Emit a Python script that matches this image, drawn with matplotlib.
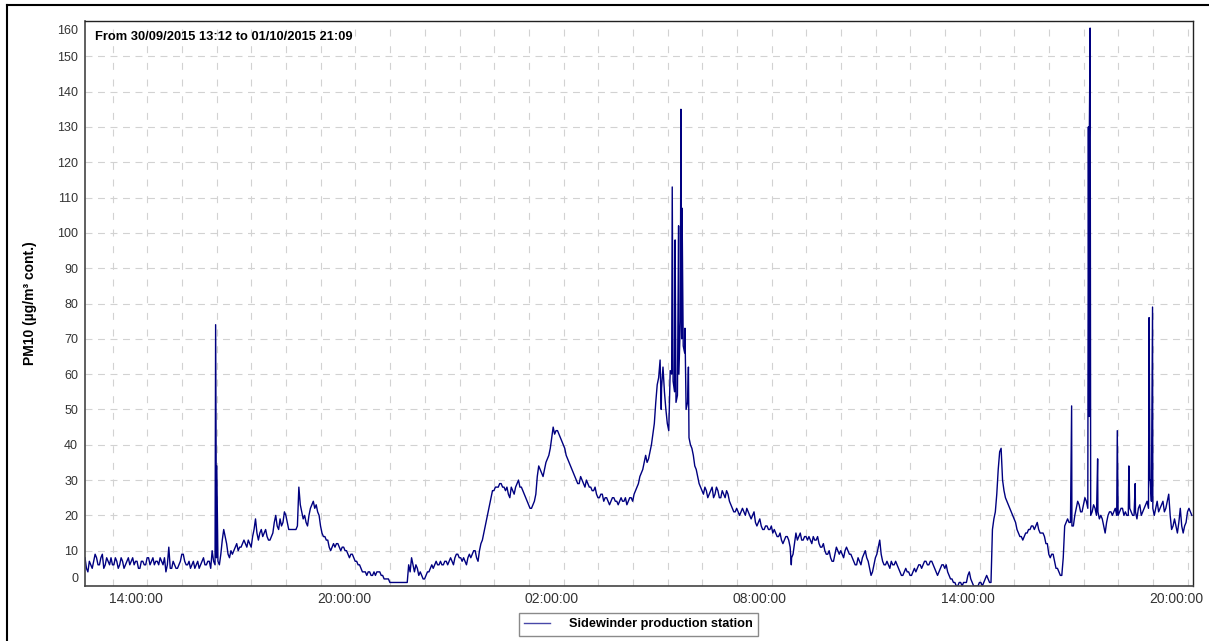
import numpy as np
import matplotlib
matplotlib.use('Agg')
import matplotlib.pyplot as plt
import matplotlib.dates as mdates
import matplotlib.transforms as mtransforms
from matplotlib.lines import Line2D
from matplotlib.ticker import MultipleLocator, FuncFormatter

start = np.datetime64('2015-09-30T13:12')
end = np.datetime64('2015-10-01T21:09')
step_min = 5

# PM10, one row per hour from 13:12, a reading every 5 minutes
pm10 = [
    8, 4, 6, 7, 8, 6, 9, 6, 7, 8, 6, 7,
    6, 7, 6, 8, 7, 6, 7, 5, 7, 6, 8, 7,
    6, 7, 8, 6, 4, 11, 5, 6, 5, 7, 9, 6,
    7, 6, 5, 7, 6, 8, 6, 7, 10, 6, 7, 9,
    16, 12, 8, 9, 11, 10, 11, 13, 11, 12, 14, 19,
    13, 16, 15, 14, 13, 15, 20, 16, 17, 21, 18, 16,
    16, 16, 28, 21, 20, 17, 22, 24, 23, 20, 15, 14,
    13, 10, 12, 12, 11, 11, 10, 9, 9, 8, 7, 6,
    4, 4, 4, 3, 4, 4, 4, 3, 2, 2, 1, 1,
    1, 1, 1, 1, 6, 8, 4, 5, 4, 2, 3, 4,
    6, 6, 6, 7, 6, 7, 7, 7, 8, 9, 8, 8,
    6, 9, 9, 10, 7, 12, 15, 19, 23, 27, 28, 28,
    29, 28, 28, 25, 27, 28, 30, 28, 26, 24, 22, 23,
    26, 34, 32, 33, 36, 39, 45, 44, 43, 41, 39, 36,
    34, 32, 30, 29, 30, 28, 29, 28, 27, 26, 25, 26,
    25, 24, 24, 25, 24, 24, 24, 25, 24, 25, 26, 28,
    31, 33, 37, 36, 40, 46, 57, 64, 62, 50, 44, 60,
    55, 54, 75, 68, 50, 42, 39, 34, 31, 28, 26, 27,
    26, 28, 26, 27, 25, 26, 27, 24, 22, 21, 21, 21,
    21, 22, 20, 20, 18, 18, 17, 16, 17, 16, 15, 15,
    14, 13, 13, 14, 11, 9, 15, 14, 13, 14, 13, 13,
    14, 13, 12, 11, 10, 9, 8, 7, 11, 9, 9, 10,
    10, 9, 7, 6, 7, 8, 10, 7, 3, 6, 9, 13,
    7, 6, 6, 7, 6, 6, 4, 3, 5, 4, 3, 5,
    5, 6, 6, 7, 6, 7, 5, 3, 5, 6, 6, 3,
    2, 1, 0, 1, 1, 1, 4, 1, 0, 0, 1, 1,
    3, 1, 16, 21, 33, 39, 27, 24, 22, 20, 18, 15,
    14, 14, 15, 16, 17, 17, 16, 15, 14, 12, 8, 9,
    5, 4, 3, 17, 19, 18, 17, 22, 23, 21, 25, 22,
    20, 23, 20, 19, 19, 15, 20, 21, 21, 20, 21, 22,
    21, 20, 21, 20, 19, 23, 21, 23, 22, 24, 20, 24,
    22, 24, 22, 26, 16, 19, 15, 22, 15, 18, 22, 20,
]

# readings half way between the 5 minute ones (minute 5*i + 2.5)
pm10_mid = [
    5, 7, 5, 9, 6, 8, 5, 8, 6, 6, 8, 5,
    8, 5, 7, 6, 8, 7, 5, 7, 6, 8, 6, 8,
    7, 6, 7, 8, 6, 5, 7, 5, 6, 9, 7, 6,
    5, 7, 6, 5, 7, 6, 7, 5, 7, 8, 6, 13,
    14, 9, 10, 10, 12, 11, 12, 12, 13, 11, 16, 15,
    15, 14, 16, 13, 14, 18, 17, 19, 18, 20, 16, 16,
    16, 17, 23, 19, 18, 20, 23, 22, 21, 17, 14, 13,
    11, 11, 11, 12, 10, 11, 10, 8, 9, 7, 6, 5,
    4, 3, 4, 3, 3, 4, 3, 2, 2, 1, 1, 1,
    1, 1, 1, 1, 4, 6, 6, 3, 3, 2, 4, 5,
    5, 7, 6, 6, 7, 6, 8, 6, 9, 8, 7, 7,
    8, 8, 10, 8, 10, 13, 17, 21, 25, 27, 28, 29,
    28, 27, 26, 28, 26, 29, 28, 27, 25, 23, 22, 24,
    31, 33, 31, 35, 37, 42, 43, 44, 42, 40, 37, 35,
    33, 31, 29, 31, 29, 30, 28, 27, 28, 25, 26, 24,
    25, 23, 25, 24, 23, 25, 24, 23, 25, 24, 27, 29,
    32, 35, 35, 38, 43, 52, 59, 56, 55, 46, 61, 58,
    52, 60, 70, 66, 52, 40, 37, 33, 29, 27, 28, 25,
    27, 25, 28, 25, 27, 25, 26, 23, 21, 22, 20, 22,
    20, 21, 19, 21, 17, 19, 16, 17, 16, 17, 16, 14,
    15, 12, 14, 13, 8, 12, 13, 15, 13, 14, 14, 12,
    13, 14, 11, 12, 9, 10, 7, 9, 10, 10, 8, 11,
    9, 8, 6, 8, 6, 9, 8, 5, 4, 8, 11, 9,
    6, 7, 5, 6, 7, 5, 3, 4, 4, 3, 4, 4,
    6, 5, 7, 6, 7, 6, 4, 4, 6, 5, 4, 2,
    1, 0, 1, 0, 1, 3, 2, 0, 0, 1, 0, 2,
    2, 1, 19, 26, 38, 30, 25, 23, 21, 19, 16, 14,
    13, 15, 16, 17, 16, 18, 15, 15, 12, 9, 9, 7,
    5, 3, 8, 18, 18, 17, 20, 24, 21, 23, 24, 125,
    21, 22, 21, 20, 17, 18, 21, 20, 22, 20, 22, 20,
    20, 22, 20, 21, 22, 20, 22, 24, 30, 22, 22, 21,
    23, 21, 24, 20, 17, 17, 18, 17, 17, 21, 21,
]

# short bursts logged between the regular readings (minutes after start)
burst_min = [226, 228, 997, 1016, 1021, 1027, 1031, 1033, 1038, 1044, 1222,
             1707, 1736, 1737, 1739, 1752, 1786, 1806, 1817, 1841, 1843, 1847]
burst_val = [74, 34, 50, 113, 98, 102, 135, 107, 73, 62, 6,
             51, 130, 48, 158, 36, 44, 34, 29, 76, 30, 79]

period_text = 'From 30/09/2015 13:12 to 01/10/2015 21:09'
station = 'Sidewinder production station'
y_title = 'PM10 (µg/m³ cont.)'

line_col = '#000080'
grid_col = '#d2d2d2'

plt.rcParams['font.family'] = ['Liberation Sans', 'DejaVu Sans']
plt.rcParams['lines.scale_dashes'] = False

# merge everything into one time ordered series (seconds after start)
secs = np.concatenate([
    np.arange(len(pm10)) * step_min * 60,
    np.arange(len(pm10_mid)) * step_min * 60 + 150,
    np.array(burst_min) * 60,
])
vals = np.concatenate([pm10, pm10_mid, burst_val]).astype(float)
order = np.argsort(secs, kind='stable')
times = start + secs[order].astype('timedelta64[s]')
vals = vals[order]

fig = plt.figure(figsize=(12.09, 6.41), dpi=100)
ax = fig.add_axes([85 / 1209, 1 - 586 / 641, 1108 / 1209, 565 / 641])

ax.plot(times, vals, color=line_col, lw=1.0, label=station)

ax.set_xlim(start, end)
ax.set_ylim(0, 160)
ax.yaxis.set_major_locator(MultipleLocator(10))
ax.xaxis.set_major_locator(mdates.HourLocator())


def hour_label(x, pos):
    d = mdates.num2date(x)
    return d.strftime('%H:%M:%S') if d.hour % 6 == 2 else ''


ax.xaxis.set_major_formatter(FuncFormatter(hour_label))
ax.tick_params(axis='x', length=0, pad=4.5, labelsize=10, labelcolor='#333333')
ax.tick_params(axis='y', length=0, pad=5, labelsize=9, labelcolor='#333333')

ax.set_axisbelow(True)
ax.grid(True, axis='y', color=grid_col, lw=0.8, dashes=(5, 4))
ax.grid(True, axis='x', color=grid_col, lw=0.8, dashes=(5, 7))

for side in ['left', 'bottom']:
    ax.spines[side].set_color('#444444')
    ax.spines[side].set_linewidth(1.2)
for side in ['top', 'right']:
    ax.spines[side].set_color('#222222')
    ax.spines[side].set_linewidth(1.0)

ax.text(0.009, (586 - 39.5) / 565, period_text, transform=ax.transAxes,
        weight='bold', fontsize=9.3, va='baseline', ha='left')

ax.set_ylabel(y_title, weight='bold', fontsize=10)
ax.yaxis.set_label_coords(-0.043, 0.5)

leg = fig.legend(loc='center', bbox_to_anchor=(638.5 / 1209, 1 - 624.5 / 641),
                 prop={'weight': 'bold', 'size': 9.2},
                 frameon=True, fancybox=False, framealpha=1, edgecolor='#8a8a8a',
                 borderpad=0.45, handlelength=2.0, handletextpad=1.5)
leg.get_frame().set_linewidth(1.0)
leg.get_lines()[0].set_color('#4848a8')

# outer frame edges
fig.add_artist(Line2D([6.5 / 1209, 6.5 / 1209], [0, 1 - 4.5 / 641],
                      transform=fig.transFigure, color='black', lw=1.5))
fig.add_artist(Line2D([6.5 / 1209, 1], [1 - 4.5 / 641, 1 - 4.5 / 641],
                      transform=fig.transFigure, color='black', lw=1.5))

# hour labels sit to the right of their gridline, end labels nudged inside
fig.canvas.draw()
shift_x = mtransforms.ScaledTranslation(23 / 100, 0, fig.dpi_scale_trans)
for tick in ax.xaxis.get_major_ticks():
    tick.label1.set_transform(tick.label1.get_transform() + shift_x)
for tick in ax.yaxis.get_major_ticks():
    loc = tick.get_loc()
    if abs(loc) < 1e-6:
        nudge = mtransforms.ScaledTranslation(0, 8 / 100, fig.dpi_scale_trans)
        tick.label1.set_transform(tick.label1.get_transform() + nudge)
    elif abs(loc - 160) < 1e-6:
        nudge = mtransforms.ScaledTranslation(0, -9 / 100, fig.dpi_scale_trans)
        tick.label1.set_transform(tick.label1.get_transform() + nudge)

fig.savefig('out.png', dpi=100, facecolor='white')
